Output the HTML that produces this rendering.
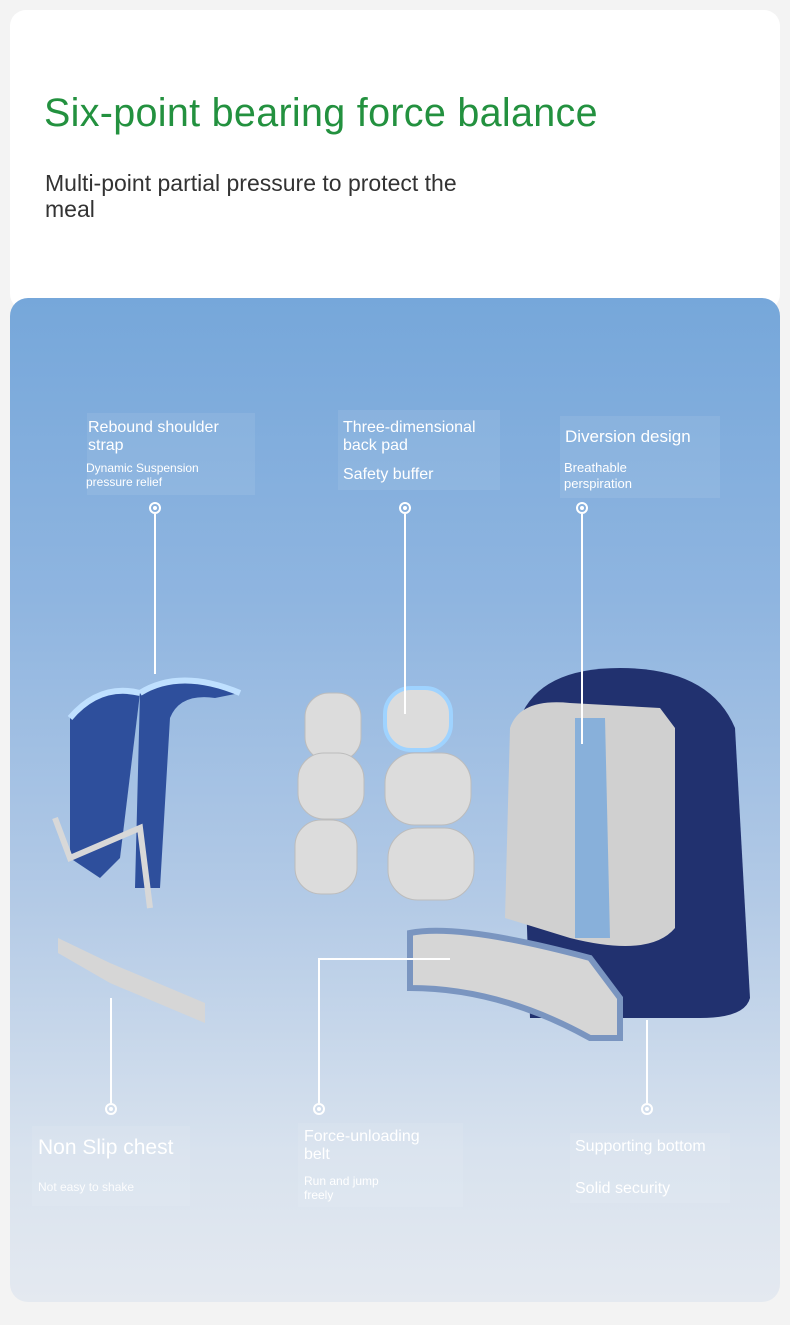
<!DOCTYPE html>
<html><head><meta charset="utf-8"><style>
*{margin:0;padding:0;box-sizing:border-box}
body{width:790px;height:1325px;background:#f3f3f3;position:relative;overflow:hidden;font-family:"Liberation Sans",sans-serif}
.top{position:absolute;left:10px;top:10px;width:770px;height:300px;background:#fff;border-radius:16px}
h1{position:absolute;left:44px;top:91px;font-size:39.5px;font-weight:normal;color:#23913f;letter-spacing:0.3px}
.sub{position:absolute;left:45px;top:170px;font-size:23px;color:#333;line-height:26px;width:462px}
.blue{position:absolute;left:10px;top:298px;width:770px;height:1004px;border-radius:18px;background:linear-gradient(#76a7da 0%,#8fb5e0 30%,#b3cae6 60%,#d8e2ee 85%,#e4e9f0 100%);overflow:hidden}
.b{position:absolute;background:rgba(255,255,255,0.08);color:#fff}
.t{position:absolute;color:#fff;font-size:16px;line-height:18px}
.s{position:absolute;color:#fff;font-size:12px;line-height:14px}
.ln{position:absolute;width:1.5px;background:#fff}
.dot{position:absolute;width:12px;height:12px;border:2px solid #fff;border-radius:50%}
.dot:after{content:"";position:absolute;left:2px;top:2px;width:4px;height:4px;background:#fff;border-radius:50%}
</style></head><body>
<div class="top"></div>
<h1>Six-point bearing force balance</h1>
<div class="sub">Multi-point partial pressure to protect the meal</div>
<div class="blue">
<svg width="770" height="1004" style="position:absolute;left:0;top:0">
<path d="M60 420 Q90 385 130 395 L110 560 L90 580 L60 560 Z" fill="#2e4f9c"/>
<path d="M130 395 Q170 370 230 395 L205 400 Q170 395 160 420 L150 590 L125 590 Z" fill="#2e4f9c"/>
<path d="M130 395 Q170 370 230 395" stroke="#bfe0ff" stroke-width="6" fill="none"/>
<path d="M60 420 Q90 385 130 395" stroke="#bfe0ff" stroke-width="6" fill="none"/>
<path d="M45 520 L60 560 L130 530 L140 610" stroke="#d8d8d8" stroke-width="6" fill="none"/>
<path d="M48 640 L100 665 L195 705 L195 725 L100 685 L48 655 Z" fill="#d6d6d6"/>
<g fill="#dcdcdc" stroke="#bcbcbc">
<rect x="295" y="395" width="56" height="68" rx="24"/>
<rect x="375" y="390" width="66" height="62" rx="26" stroke="#9fd3ff" stroke-width="4"/>
<rect x="288" y="455" width="66" height="66" rx="26"/>
<rect x="375" y="455" width="86" height="72" rx="30"/>
<rect x="285" y="522" width="62" height="74" rx="26"/>
<rect x="378" y="530" width="86" height="72" rx="30"/>
</g>
<path d="M510 420 Q530 370 610 370 Q700 370 725 430 L740 700 Q735 720 690 720 L520 720 Z" fill="#21316f"/>
<path d="M500 430 Q510 400 560 405 L650 410 L665 430 L665 630 Q640 660 560 640 L495 620 Z" fill="#d0d0d0"/>
<path d="M565 420 L595 420 L600 640 L565 640 Z" fill="#6aa3de" opacity="0.7"/>
<path d="M400 635 Q450 625 580 660 L610 700 L610 740 L580 740 Q490 690 400 690 Z" fill="#d6d6d6" stroke="#7a95c0" stroke-width="6"/>
</svg>
<div class="b" style="left:77px;top:115px;width:168px;height:82px"></div>
<div class="t" style="left:78px;top:121px">Rebound shoulder<br>strap</div>
<div class="s" style="left:76px;top:163px">Dynamic Suspension<br>pressure relief</div>
<div class="b" style="left:328px;top:112px;width:162px;height:80px"></div>
<div class="t" style="left:333px;top:121px">Three-dimensional<br>back pad</div>
<div class="t" style="left:333px;top:168px">Safety buffer</div>
<div class="b" style="left:550px;top:118px;width:160px;height:82px"></div>
<div class="t" style="left:555px;top:130px;font-size:17px">Diversion design</div>
<div class="s" style="left:554px;top:162px;font-size:13px;line-height:16px">Breathable<br>perspiration</div>
<div class="dot" style="left:139px;top:204px"></div><div class="ln" style="left:144px;top:216px;height:160px"></div>
<div class="dot" style="left:389px;top:204px"></div><div class="ln" style="left:394px;top:216px;height:200px"></div>
<div class="dot" style="left:566px;top:204px"></div><div class="ln" style="left:571px;top:216px;height:230px"></div>
<div class="ln" style="left:100px;top:700px;height:105px"></div><div class="dot" style="left:95px;top:805px"></div>
<div class="ln" style="left:308px;top:660px;height:145px"></div><div class="ln" style="left:308px;top:660px;width:132px;height:1.5px"></div><div class="dot" style="left:303px;top:805px"></div>
<div class="ln" style="left:636px;top:722px;height:83px"></div><div class="dot" style="left:631px;top:805px"></div>
<div class="b" style="left:22px;top:828px;width:158px;height:80px"></div>
<div class="t" style="left:28px;top:838px;font-size:21px;line-height:24px">Non Slip chest</div>
<div class="s" style="left:28px;top:882px;font-size:12px;opacity:0.9">Not easy to shake</div>
<div class="b" style="left:288px;top:825px;width:165px;height:84px"></div>
<div class="t" style="left:294px;top:830px">Force-unloading<br>belt</div>
<div class="s" style="left:294px;top:876px">Run and jump<br>freely</div>
<div class="b" style="left:560px;top:835px;width:160px;height:70px"></div>
<div class="t" style="left:565px;top:840px">Supporting bottom</div>
<div class="t" style="left:565px;top:882px">Solid security</div>
</div>
</body></html>
